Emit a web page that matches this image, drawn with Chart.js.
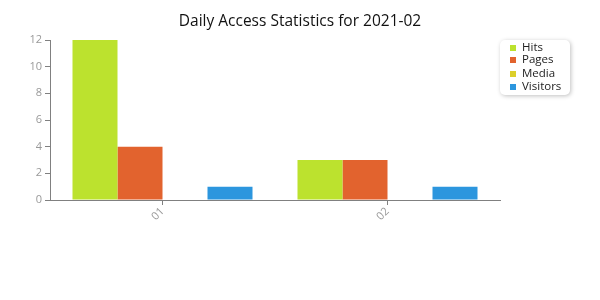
<!DOCTYPE html>
<html>
<head>
<meta charset="utf-8">
<script src="https://cdn.jsdelivr.net/npm/chart.js@4/dist/chart.umd.min.js"></script>
<style>
  html, body { margin: 0; padding: 0; background: #fff; }
  #wrap { width: 600px; height: 300px; position: relative; }
</style>
</head>
<body>
<div id="wrap"><canvas id="statsChart"></canvas></div>
<script>
// Values
const days = ['01', '02'];
const hits = [12, 3];
const pages = [4, 3];
const media = [0, 0];
const visitors = [1, 1];
const yTicks = [0, 2, 4, 6, 8, 10, 12];

const seriesColors = {
  Hits: '#bce22e',
  Pages: '#e2632e',
  Media: '#dccf2a',
  Visitors: '#2c96de'
};

// Title is centred on the whole canvas, not only the plot
const centerTitle = {
  id: 'centerTitle',
  afterLayout(chart) {
    const t = chart.titleBlock;
    if (!t) return;
    t.left = 0;
    t.right = chart.width;
    t.width = chart.width;
  }
};

// Draws the framed legend box at the top right
const boxLegend = {
  id: 'boxLegend',
  afterDraw(chart) {
    const ctx = chart.ctx;
    const x = 500, y = 40, w = 70, h = 55, r = 5;
    ctx.save();
    ctx.shadowColor = 'rgba(0,0,0,0.25)';
    ctx.shadowBlur = 4;
    ctx.shadowOffsetX = 1;
    ctx.shadowOffsetY = 1;
    ctx.fillStyle = '#fff';
    ctx.beginPath();
    ctx.roundRect(x, y, w, h, r);
    ctx.fill();
    ctx.restore();

    ctx.save();
    ctx.font = '11.5px "Open Sans"';
    ctx.textBaseline = 'middle';
    const rows = [48, 60, 74, 87];
    chart.data.datasets.forEach((ds, i) => {
      const cy = rows[i];
      ctx.fillStyle = ds.backgroundColor;
      ctx.fillRect(x + 10, cy - 3, 6, 6);
      ctx.fillStyle = '#222';
      ctx.fillText(ds.label, x + 22, cy);
    });
    ctx.restore();
  }
};

new Chart(document.getElementById('statsChart').getContext('2d'), {
  type: 'bar',
  data: {
    labels: days,
    datasets: [
      { label: 'Hits', data: hits, backgroundColor: seriesColors.Hits },
      { label: 'Pages', data: pages, backgroundColor: seriesColors.Pages },
      { label: 'Media', data: media, backgroundColor: seriesColors.Media },
      { label: 'Visitors', data: visitors, backgroundColor: seriesColors.Visitors }
    ]
  },
  options: {
    responsive: true,
    maintainAspectRatio: false,
    animation: false,
    layout: { padding: { left: 0, right: 100, top: 0, bottom: 0 } },
    datasets: {
      bar: { categoryPercentage: 0.8, barPercentage: 1.0 }
    },
    plugins: {
      legend: { display: false },
      tooltip: { enabled: false },
      title: {
        display: true,
        text: 'Daily Access Statistics for 2021-02',
        color: '#111',
        font: { family: '"Open Sans"', size: 15.5, weight: 'normal' },
        padding: { top: 12.5, bottom: 8.9 }
      }
    },
    scales: {
      x: {
        offset: true,
        grid: {
          display: true,
          drawOnChartArea: false,
          offset: false,
          tickLength: 5,
          color: '#808080'
        },
        border: { display: true, color: '#808080', width: 1 },
        ticks: {
          color: '#999',
          font: { family: '"Open Sans"', size: 11 },
          minRotation: 45,
          maxRotation: 45,
          padding: 0
        },
        afterFit(scale) { scale.height = 100; }
      },
      y: {
        min: 0,
        max: 12,
        afterBuildTicks(scale) { scale.ticks = yTicks.map(v => ({ value: v })); },
        grid: {
          display: true,
          drawOnChartArea: false,
          tickLength: 5,
          color: '#808080'
        },
        border: { display: true, color: '#808080', width: 1 },
        ticks: {
          color: '#999',
          font: { family: '"Open Sans"', size: 11 },
          padding: 3
        },
        afterFit(scale) { scale.width = 50; }
      }
    }
  },
  plugins: [centerTitle, boxLegend]
});
</script>
</body>
</html>
